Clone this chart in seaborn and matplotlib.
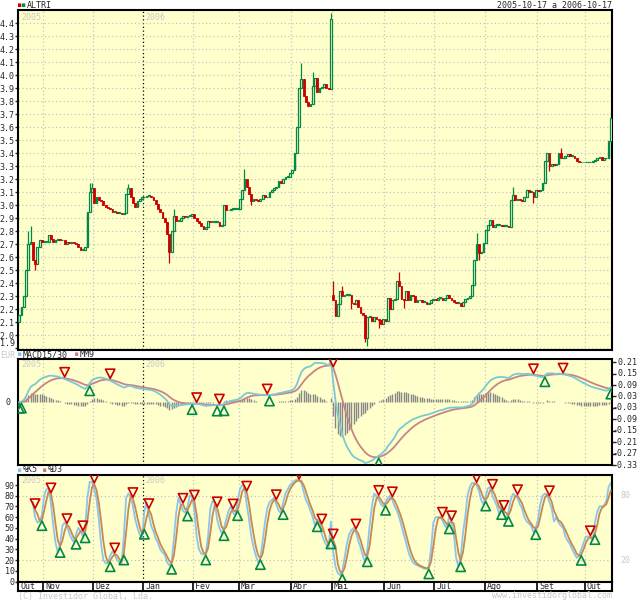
import numpy as np
import pandas as pd
import matplotlib
matplotlib.use("Agg")
import matplotlib.pyplot as plt
import matplotlib.transforms as mtransforms
import seaborn as sns

# ==========================================================
# DATA - daily closes, one list per month
# ==========================================================

closes_out05 = [2.16, 2.22, 2.30, 2.50, 2.70, 2.72, 2.58, 2.55, 2.68, 2.73, 2.72]
closes_nov05 = [2.72, 2.72, 2.77, 2.74, 2.72, 2.73, 2.74, 2.73, 2.73, 2.70, 2.72,
                2.71, 2.72, 2.71, 2.70, 2.68, 2.66, 2.66, 2.68, 2.95, 3.10, 3.13]
closes_dez05 = [3.02, 3.06, 3.04, 3.03, 3.00, 2.99, 2.98, 2.97, 2.95, 2.95, 2.94,
                2.94, 2.93, 2.94, 3.09, 3.13, 3.06, 3.02, 2.99, 3.03, 3.05, 3.06]
closes_jan06 = [3.06, 3.07, 3.07, 3.06, 3.04, 3.01, 2.97, 2.95, 2.90, 2.87, 2.78,
                2.64, 2.80, 2.92, 2.88, 2.88, 2.90, 2.92, 2.91, 2.92, 2.92, 2.93]
closes_fev06 = [2.90, 2.88, 2.86, 2.84, 2.82, 2.83, 2.88, 2.87, 2.87, 2.87,
                2.87, 2.84, 2.85, 3.00, 2.96, 2.96, 2.97, 2.97, 2.97, 2.97]
closes_mar06 = [3.05, 3.12, 3.20, 3.14, 3.09, 3.03, 3.05, 3.04, 3.03, 3.05, 3.08, 3.06,
                3.06, 3.10, 3.12, 3.13, 3.14, 3.19, 3.17, 3.20, 3.22, 3.22, 3.25]
closes_abr06 = [3.27, 3.40, 3.60, 3.90, 3.97, 3.84, 3.79, 3.76, 3.78,
                3.92, 3.98, 3.87, 3.90, 3.91, 3.93, 3.90, 3.89, 4.43]
closes_mai06 = [2.27, 2.15, 2.24, 2.34, 2.30, 2.31, 2.31, 2.31, 2.25, 2.24, 2.27, 2.22,
                2.17, 2.16, 1.98, 2.14, 2.14, 2.11, 2.14, 2.13, 2.12, 2.09, 2.13]
closes_jun06 = [2.11, 2.29, 2.20, 2.27, 2.28, 2.42, 2.38, 2.28, 2.27, 2.34, 2.27,
                2.31, 2.30, 2.26, 2.27, 2.27, 2.26, 2.26, 2.24, 2.25, 2.27, 2.28]
closes_jul06 = [2.27, 2.29, 2.29, 2.27, 2.29, 2.31, 2.29, 2.27, 2.26, 2.25, 2.25,
                2.23, 2.26, 2.28, 2.29, 2.30, 2.39, 2.58, 2.70, 2.63, 2.64, 2.71]
closes_ago06 = [2.81, 2.85, 2.89, 2.83, 2.85, 2.85, 2.85, 2.84, 2.84, 2.84, 2.83, 3.04,
                3.08, 3.04, 3.05, 3.04, 3.03, 3.06, 3.12, 3.10, 3.10, 3.06, 3.12]
closes_set06 = [3.11, 3.12, 3.17, 3.34, 3.40, 3.30, 3.32, 3.31, 3.32, 3.40, 3.36,
                3.36, 3.38, 3.39, 3.38, 3.38, 3.36, 3.34, 3.33, 3.33, 3.33]
closes_out06 = [3.33, 3.33, 3.33, 3.34, 3.35, 3.36, 3.37, 3.35, 3.36, 3.36, 3.49, 3.67]

# stochastic %K5 (same month split)
nan = np.nan
k5_out05 = [nan, nan, nan, nan, nan, nan, 74, 60, 55, 56, 62]
k5_nov05 = [80, 86, 87, 72, 52, 36, 27, 35, 52, 55, 52, 45, 40, 37, 44, 50, 47, 42, 50, 78, 93, 93]
k5_dez05 = [86, 77, 58, 35, 20, 17, 17, 24, 28, 25, 20, 18, 17, 42, 78, 82, 80, 70, 58, 50, 44, 40]
k5_jan06 = [65, 74, 62, 52, 47, 40, 36, 30, 27, 25, 18, 15, 18, 40, 64, 78, 72, 66, 64, 70, 80, 79]
k5_fev06 = [66, 42, 30, 26, 25, 26, 42, 68, 75, 73, 58, 50, 45, 50, 58, 66, 70, 64, 62, 75]
k5_mar06 = [86, 90, 88, 72, 58, 42, 32, 24, 18, 22, 38, 55, 68, 74, 76, 78, 72, 66, 64, 74, 82, 86, 90]
k5_abr06 = [92, 94, 95, 94, 92, 84, 76, 72, 66, 60, 52, 58, 56, 44, 38, 34, 32, 56]
k5_mai06 = [28, 14, 8, 6, 10, 22, 35, 44, 48, 50, 46, 38, 32, 24, 18, 30, 52, 70, 82, 80, 76, 72, 70]
k5_jun06 = [74, 78, 80, 76, 70, 66, 60, 52, 44, 36, 28, 22, 18, 16, 15, 14, 13, 12, 12, 14, 30, 55]
k5_jul06 = [60, 60, 60, 57, 52, 50, 62, 55, 45, 22, 14, 22, 45, 60, 80, 88, 92, 92, 90, 85, 76, 72]
k5_ago06 = [80, 87, 88, 80, 75, 70, 62, 72, 62, 58, 65, 76, 82, 80, 78, 72, 68, 60, 56, 54, 52, 46, 50]
k5_set06 = [58, 72, 80, 82, 81, 74, 68, 56, 60, 55, 52, 50, 42, 38, 35, 30, 26, 22, 24, 30, 36]
k5_out06 = [42, 42, 41, 38, 55, 65, 70, 70, 71, 75, 88, 92]

month_labels = ["Out", "Nov", "Dez", "Jan", "Fev", "Mar", "Abr",
                "Mai", "Jun", "Jul", "Ago", "Set", "Out"]
monthly_closes = [closes_out05, closes_nov05, closes_dez05, closes_jan06, closes_fev06,
                  closes_mar06, closes_abr06, closes_mai06, closes_jun06, closes_jul06,
                  closes_ago06, closes_set06, closes_out06]
monthly_k5 = [k5_out05, k5_nov05, k5_dez05, k5_jan06, k5_fev06, k5_mar06, k5_abr06,
              k5_mai06, k5_jun06, k5_jul06, k5_ago06, k5_set06, k5_out06]

# opens that do not follow the previous close (gaps) and visible wick ends
gap_opens = {0: 2.10, 138: 2.31}
wick_highs = {4: 2.80, 5: 2.84, 31: 3.17, 32: 3.17, 48: 3.16, 68: 2.97, 99: 3.28,
              124: 4.09, 129: 4.02, 137: 4.48, 138: 2.42, 142: 2.38, 167: 2.49,
              201: 2.79, 217: 3.14, 238: 3.44, 260: 3.72}
wick_lows = {7: 2.50, 66: 2.56, 102: 3.00, 146: 2.20, 152: 1.95, 153: 1.92,
             158: 2.06, 169: 2.21, 202: 2.58, 226: 3.02, 233: 3.26}

price_ticks = [round(1.9 + 0.1 * i, 1) for i in range(26)]
macd_ticks = [0.21, 0.15, 0.09, 0.03, -0.03, -0.09, -0.15, -0.21, -0.27, -0.33]
stoch_ticks = [0, 10, 20, 30, 40, 50, 60, 70, 80, 90]

BG = "#FFFFCC"
UP = "#008844"
DOWN = "#CC0000"
GRID = "#C4C4C4"
FAINT = "#C8C8C8"
MACD_C = "#7CC8D4"
SIG_C = "#C88484"
K_C = "#8CC4F0"
D_C = "#C48A50"
FS = 6

# ==========================================================
# BUILD OHLC + INDICATORS
# ==========================================================

closes = sum(monthly_closes, [])
month_starts = np.cumsum([0] + [len(m) for m in monthly_closes[:-1]])

df = pd.DataFrame({"close": closes, "k": sum(monthly_k5, [])})
df["day"] = np.arange(len(df))
df["open"] = df["close"].shift(1)
for k, v in gap_opens.items():
    df.loc[k, "open"] = v
df["high"] = df[["open", "close"]].max(axis=1)
df["low"] = df[["open", "close"]].min(axis=1)
for k, v in wick_highs.items():
    df.loc[k, "high"] = v
for k, v in wick_lows.items():
    df.loc[k, "low"] = v

ema15 = df["close"].ewm(span=15, adjust=False).mean()
ema30 = df["close"].ewm(span=30, adjust=False).mean()
df["macd"] = ema15 - ema30
df["signal"] = df["macd"].ewm(span=9, adjust=False).mean()
df["hist"] = df["macd"] - df["signal"]

df["d"] = df["k"].rolling(3, min_periods=1).mean()


def crossings(a, b):
    diff = np.sign((a - b).values)
    ups, downs = [], []
    for i in range(1, len(diff)):
        if np.isnan(diff[i]) or np.isnan(diff[i - 1]):
            continue
        if diff[i - 1] <= 0 and diff[i] > 0:
            ups.append(i)
        elif diff[i - 1] >= 0 and diff[i] < 0:
            downs.append(i)
    return ups, downs


# ==========================================================
# FIGURE
# ==========================================================

sns.set_style("white")
plt.rcParams["font.family"] = ["DejaVu Sans Mono"]
plt.rcParams["font.size"] = FS

fig = plt.figure(figsize=(6.4, 6.0), dpi=100)


def box(x0, y0, x1, y1):
    return [x0 / 640, 1 - y1 / 600, (x1 - x0) / 640, (y1 - y0) / 600]


def fxy(x, y):
    return x / 640, 1 - y / 600


ax1 = fig.add_axes(box(18, 10, 612, 349.5))
ax2 = fig.add_axes(box(18, 359, 612, 465))
ax3 = fig.add_axes(box(18, 474.5, 612, 581.5))
ax4 = fig.add_axes(box(18, 581.5, 612, 591))

n = len(df)
for ax in (ax1, ax2, ax3, ax4):
    ax.set_facecolor(BG)
    ax.set_xlim(-0.5, n - 0.5)
    ax.set_xticks([])
    for s in ax.spines.values():
        s.set_color("black")
        s.set_linewidth(1.5)
ax4.set_facecolor("white")

# month grid lines and year marks
for ax in (ax1, ax2, ax3):
    for lab, s in zip(month_labels[1:], month_starts[1:]):
        col = "black" if lab == "Jan" else GRID
        ax.axvline(s - 0.5, color=col, ls=(0, (1, 2)), lw=0.9, zorder=1)
    trans = mtransforms.blended_transform_factory(ax.transData, ax.transAxes)
    ax.text(1, 0.99, "2005", transform=trans, color=FAINT, fontsize=FS, va="top", ha="left")
    ax.text(month_starts[3] + 0.5, 0.99, "2006", transform=trans,
            color=FAINT, fontsize=FS, va="top", ha="left")

# ----------------------------------------------------------
# PRICE PANEL
# ----------------------------------------------------------

for t in price_ticks:
    ax1.axhline(t, color=GRID, ls=(0, (1, 2)), lw=0.9, zorder=1)

up = df["close"] >= df["open"]
body_lo = df[["open", "close"]].min(axis=1)
body_h = (df["close"] - df["open"]).abs().clip(lower=0.006)

ax1.vlines(df["day"], df["low"], df["high"], colors=np.where(up, UP, DOWN), lw=0.9, zorder=2)
ax1.bar(df["day"][up], body_h[up], bottom=body_lo[up], width=0.8,
        facecolor=BG, edgecolor=UP, lw=0.9, zorder=3)
ax1.bar(df["day"][~up], body_h[~up], bottom=body_lo[~up], width=0.8,
        facecolor=DOWN, edgecolor=DOWN, lw=0.6, zorder=3)

ax1.set_ylim(1.892, 4.5)
ax1.set_yticks(price_ticks)
ax1.set_yticklabels([f"{t:.1f}" for t in price_ticks])
ax1.tick_params(axis="y", left=True, length=2, width=1, pad=0.5, labelsize=FS)
# lowest label sits just above the frame, as in the original
ax1.get_yticklabels()[0].set_va("bottom")

# ----------------------------------------------------------
# MACD PANEL
# ----------------------------------------------------------

ax2.vlines(df["day"], 0, df["hist"], colors="#888888", lw=1.0, zorder=2)
sns.lineplot(data=df, x="day", y="signal", color=SIG_C, lw=1.3, ax=ax2, zorder=3)
sns.lineplot(data=df, x="day", y="macd", color=MACD_C, lw=1.3, ax=ax2, zorder=4)

m_up, m_down = crossings(df["macd"], df["signal"])
m_up = [0] + m_up
above = mtransforms.offset_copy(ax2.transData, fig=fig, y=6, units="dots")
below = mtransforms.offset_copy(ax2.transData, fig=fig, y=-6, units="dots")
ax2.scatter(df["day"][m_down], df["signal"][m_down], marker="v", s=45, facecolors="none",
            edgecolors=DOWN, linewidths=1.2, transform=above, zorder=5)
ax2.scatter(df["day"][m_up], df["signal"][m_up], marker="^", s=45, facecolors="none",
            edgecolors=UP, linewidths=1.2, transform=below, zorder=5)

ax2.set_ylim(-0.33, 0.227)
ax2.yaxis.tick_right()
ax2.set_yticks(macd_ticks)
ax2.set_yticklabels([])
ax2.tick_params(axis="y", right=True, length=3, width=1)
ax2.set_xlabel("")
ax2.set_ylabel("")
tr2 = mtransforms.blended_transform_factory(ax2.transAxes, ax2.transData)
for t in macd_ticks:
    ax2.text(620 / 594, t, f"{t:.2f}", transform=tr2, ha="right", va="center", fontsize=FS)
ax2.text(-0.012, 0, "0", transform=tr2, ha="right", va="center", fontsize=FS)

# ----------------------------------------------------------
# STOCHASTIC PANEL
# ----------------------------------------------------------

tr3 = mtransforms.blended_transform_factory(ax3.transAxes, ax3.transData)
for t in (20, 80):
    ax3.axhline(t, color=GRID, ls=(0, (1, 2)), lw=0.9, zorder=1)
    ax3.text(1.015, t, str(t), transform=tr3, ha="left", va="center", color=FAINT, fontsize=FS)

sns.lineplot(data=df, x="day", y="d", color=D_C, lw=1.3, ax=ax3, zorder=3)
sns.lineplot(data=df, x="day", y="k", color=K_C, lw=1.3, ax=ax3, zorder=2)

s_up, s_down = crossings(df["k"], df["d"])
above3 = mtransforms.offset_copy(ax3.transData, fig=fig, y=6, units="dots")
below3 = mtransforms.offset_copy(ax3.transData, fig=fig, y=-6, units="dots")
ax3.scatter(df["day"][s_down], df["d"][s_down], marker="v", s=45, facecolors="none",
            edgecolors=DOWN, linewidths=1.2, transform=above3, zorder=5)
ax3.scatter(df["day"][s_up], df["d"][s_up], marker="^", s=45, facecolors="none",
            edgecolors=UP, linewidths=1.2, transform=below3, zorder=5)

ax3.set_ylim(0, 99.8)
ax3.set_yticks(stoch_ticks)
ax3.set_yticklabels([str(t) for t in stoch_ticks])
ax3.tick_params(axis="y", left=True, length=2, width=1, pad=0.5, labelsize=FS)
ax3.set_xlabel("")
ax3.set_ylabel("")

# ----------------------------------------------------------
# MONTH BAND
# ----------------------------------------------------------

ax4.set_yticks([])
ax4.set_ylim(0, 1)
for lab, s in zip(month_labels, month_starts):
    if s > 0:
        ax4.axvline(s - 0.5, color="black", lw=1.2)
    ax4.text(s + 0.4, 0.45, lab, ha="left", va="center", fontsize=FS)

# ----------------------------------------------------------
# HEADERS AND FOOTERS
# ----------------------------------------------------------

fig.text(*fxy(17.5, 5.5), "■", color=DOWN, fontsize=4, ha="left", va="center")
fig.text(*fxy(22, 5.5), "■", color=UP, fontsize=4, ha="left", va="center")
fig.text(*fxy(27, 5.5), "ALTRI", fontsize=FS, ha="left", va="center")
fig.text(*fxy(612, 5.5), "2005-10-17 a 2006-10-17", fontsize=FS, ha="right", va="center")

fig.text(*fxy(0, 355.5), "EUR", color=FAINT, fontsize=FS, ha="left", va="center")
fig.text(*fxy(18.5, 354.5), "■", color=MACD_C, fontsize=4, ha="left", va="center")
fig.text(*fxy(23, 354.5), "MACD15/30", fontsize=FS, ha="left", va="center")
fig.text(*fxy(75, 354.5), "■", color=SIG_C, fontsize=4, ha="left", va="center")
fig.text(*fxy(79.5, 354.5), "MM9", fontsize=FS, ha="left", va="center")

fig.text(*fxy(18.5, 470), "■", color=K_C, fontsize=4, ha="left", va="center")
fig.text(*fxy(23, 470), "%K5", fontsize=FS, ha="left", va="center")
fig.text(*fxy(43, 470), "■", color=D_C, fontsize=4, ha="left", va="center")
fig.text(*fxy(47.5, 470), "%D3", fontsize=FS, ha="left", va="center")

fig.text(*fxy(18, 596), "(C) Investidor Global, Lda.", color=FAINT, fontsize=FS, ha="left", va="center")
fig.text(*fxy(612, 596), "www.investidorglobal.com", color=FAINT, fontsize=FS, ha="right", va="center")

fig.savefig("out.png", dpi=100, facecolor="white")
